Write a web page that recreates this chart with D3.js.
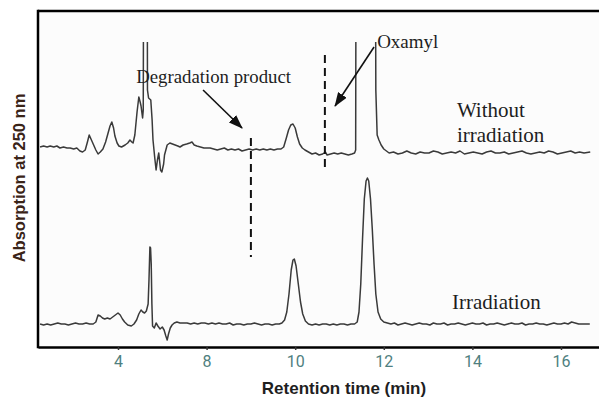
<!DOCTYPE html>
<html>
<head>
<meta charset="utf-8">
<script src="https://cdn.jsdelivr.net/npm/d3@7/dist/d3.min.js"></script>
<style>
  html, body { margin: 0; padding: 0; background: #ffffff; }
  svg { display: block; }
</style>
</head>
<body>
<svg id="chart" width="599" height="400"></svg>
<script>
// ---------------- DATA ----------------
// x tick values (retention time, min) and the labels printed under them
const xTickValues = [6, 8, 10, 12, 14, 16];
const xTickLabels = ["4", "8", "10", "12", "14", "16"];

// Without irradiation trace: [time (min), absorbance (arb. units)]
const withoutIrradiation = [
  [4.24, 3], [4.32, 4], [4.40, 3], [4.47, 4], [4.55, 3], [4.62, 4], [4.69, 2], [4.77, 3],
  [4.85, 2], [4.92, 2], [5.00, 1], [5.07, 2], [5.14, -1], [5.20, -2], [5.26, 0], [5.31, 8],
  [5.35, 15], [5.38, 12], [5.41, 9], [5.45, 5], [5.50, 0], [5.55, -4], [5.60, -2], [5.66, 1],
  [5.72, 8], [5.77, 16], [5.82, 24], [5.86, 28], [5.90, 22], [5.93, 14], [5.98, 7], [6.02, 4],
  [6.08, 3], [6.16, 5], [6.22, 7], [6.27, 10], [6.31, 8], [6.34, 7], [6.38, 15], [6.43, 38],
  [6.47, 53], [6.50, 48], [6.52, 44], [6.555, 32], [6.57, 40], [6.585, 330], [6.60, 330],
  [6.62, 300], [6.64, 330], [6.655, 330], [6.665, 60], [6.69, 52], [6.74, 50], [6.77, 30],
  [6.79, 10], [6.83, -8], [6.86, -20], [6.89, -10], [6.92, -3], [6.96, -20], [6.99, -22],
  [7.03, -14], [7.05, -5], [7.11, 5], [7.17, 7], [7.23, 6], [7.29, 5], [7.35, 4], [7.40, 3],
  [7.47, 5], [7.55, 6], [7.62, 7], [7.67, 8], [7.72, 5], [7.78, 4], [7.86, 3], [7.94, 2],
  [8.01, 2], [8.08, 2], [8.16, 1], [8.24, 0], [8.32, 1], [8.40, 2], [8.48, 0], [8.56, 1],
  [8.64, 0], [8.72, 1], [8.80, -1], [8.88, 0], [8.96, 1], [9.04, 0], [9.12, 1], [9.20, 0],
  [9.28, 1], [9.36, 0], [9.44, 1], [9.52, 0], [9.60, 1], [9.68, 1], [9.74, 3], [9.80, 12],
  [9.85, 20], [9.90, 25], [9.95, 26], [10.00, 22], [10.05, 13], [10.10, 6], [10.16, 2],
  [10.22, 0], [10.30, -2], [10.38, -4], [10.46, -3], [10.54, -5], [10.62, -4], [10.68, -2],
  [10.72, -5], [10.80, -4], [10.88, -3], [10.96, -4], [11.04, -3], [11.12, -4], [11.20, -5],
  [11.28, -4], [11.34, -3], [11.365, 0], [11.38, 400], [11.80, 400], [11.82, 60], [11.85, 15],
  [11.89, 10], [11.94, 5], [12.00, 1], [12.06, -1], [12.12, -3], [12.22, -2], [12.32, -4],
  [12.42, -3], [12.52, -1], [12.62, -3], [12.72, -4], [12.82, -2], [12.92, -3], [13.02, -3],
  [13.12, -1], [13.22, -2], [13.32, -4], [13.42, -3], [13.52, -2], [13.62, -3], [13.72, -1],
  [13.82, -4], [13.92, -3], [14.02, -2], [14.12, -3], [14.22, -4], [14.32, -2], [14.42, -1],
  [14.52, -3], [14.62, -3], [14.72, -2], [14.82, -4], [14.92, -3], [15.02, -2], [15.12, -1],
  [15.22, -3], [15.32, -4], [15.42, -3], [15.52, -2], [15.62, -3], [15.72, -1], [15.82, -2],
  [15.92, -4], [16.02, -3], [16.12, -2], [16.22, -1], [16.32, -3], [16.42, -2], [16.52, -3],
  [16.66, -2]
];

// Irradiation trace: [time (min), absorbance (arb. units)]
const irradiation = [
  [4.24, 0], [4.32, -1], [4.40, 0], [4.48, -1], [4.56, 0], [4.64, 1], [4.72, 0], [4.80, 0],
  [4.88, -1], [4.96, 0], [5.04, 1], [5.12, 0], [5.20, 0], [5.28, 1], [5.36, 0], [5.44, 0],
  [5.50, 2], [5.55, 9], [5.60, 8], [5.65, 6], [5.70, 5], [5.76, 6], [5.82, 5], [5.88, 7],
  [5.94, 9], [6.00, 11], [6.05, 9], [6.10, 5], [6.15, 2], [6.22, -1], [6.30, -2], [6.36, 0],
  [6.42, 4], [6.47, 10], [6.52, 14], [6.56, 12], [6.60, 11], [6.64, 13], [6.68, 20], [6.70, 45],
  [6.72, 77], [6.735, 76], [6.75, 60], [6.765, 20], [6.78, -2], [6.82, -4], [6.86, 1],
  [6.90, -2], [6.95, -5], [7.00, -3], [7.04, -6], [7.08, -12], [7.11, -16], [7.14, -10],
  [7.18, -4], [7.22, -1], [7.27, 1], [7.33, 2], [7.40, 1], [7.48, 1], [7.56, 1], [7.64, 0],
  [7.72, 1], [7.80, 0], [7.88, 1], [7.96, 1], [8.04, 0], [8.12, 1], [8.20, 0], [8.28, 1],
  [8.36, 0], [8.44, 0], [8.52, 1], [8.60, -1], [8.68, 0], [8.76, 0], [8.84, -1], [8.92, 0],
  [9.00, 0], [9.08, 1], [9.16, 0], [9.24, -1], [9.32, 0], [9.40, 0], [9.48, -1], [9.56, 0],
  [9.64, 0], [9.70, 1], [9.76, 4], [9.81, 12], [9.86, 30], [9.91, 54], [9.95, 64],
  [9.98, 65], [10.02, 58], [10.07, 40], [10.12, 22], [10.17, 10], [10.23, 3], [10.30, 0],
  [10.38, -1], [10.46, 0], [10.54, -1], [10.62, 0], [10.70, 0], [10.78, -1], [10.86, 0],
  [10.94, -1], [11.02, 0], [11.10, 0], [11.18, -1], [11.26, 0], [11.34, 0], [11.40, 2],
  [11.44, 12], [11.48, 40], [11.52, 85], [11.56, 125], [11.60, 143], [11.63, 146],
  [11.66, 143], [11.70, 125], [11.74, 95], [11.78, 60], [11.82, 30], [11.87, 12], [11.93, 5],
  [12.00, 2], [12.08, 1], [12.16, 0], [12.24, 1], [12.32, -1], [12.40, 0], [12.48, 1],
  [12.56, 0], [12.64, -1], [12.72, 0], [12.80, 1], [12.88, 0], [12.96, 0], [13.04, -1],
  [13.12, 1], [13.20, 0], [13.28, 0], [13.36, 1], [13.44, -1], [13.52, 0], [13.60, 0],
  [13.68, 1], [13.76, 0], [13.84, -1], [13.92, 0], [14.00, 1], [14.08, 0], [14.16, 0],
  [14.24, 1], [14.32, -1], [14.40, 0], [14.48, 0], [14.56, 1], [14.64, 0], [14.72, -1],
  [14.80, 0], [14.88, 1], [14.96, 0], [15.04, 0], [15.12, 1], [15.20, -1], [15.28, 0],
  [15.36, 0], [15.44, 1], [15.52, 0], [15.60, 0], [15.68, -1], [15.76, 0], [15.84, 1],
  [15.92, 0], [16.00, 0], [16.08, 1], [16.16, 0], [16.24, 2], [16.32, 1], [16.40, 0],
  [16.50, 0], [16.65, 0]
];

// Vertical offset of the upper (without irradiation) trace, in absorbance units
const stackOffset = 174;

// Dashed marker lines: [time, lower value, upper value]
const dashedMarkers = [
  [9.00, 67, 186],
  [10.67, 154, 269]
];

// Arrows: [from time, from value, to time, to value]
const arrows = [
  [7.92, 234, 8.80, 196],
  [11.78, 277, 10.90, 218]
];

// Text annotations: [text, time, value, font size]
const annotations = [
  ["Degradation product", 6.41, 241, 18.8],
  ["Oxamyl", 11.85, 276, 19],
  ["Without", 13.65, 207, 21],
  ["irradiation", 13.65, 182, 21],
  ["Irradiation", 13.54, 15, 21]
];

const xTitle = "Retention time (min)";
const yTitle = "Absorption at 250 nm";

// ---------------- LAYOUT ----------------
const svg = d3.select("#chart");
const frame = { left: 38, top: 11, right: 599, bottom: 347 };

const x = d3.scaleLinear().domain([4.194, 16.858]).range([frame.left, frame.right]);
const y = d3.scaleLinear().domain([0, 282]).range([324, 42]);

svg.append("rect").attr("x", 0).attr("y", 0).attr("width", 599).attr("height", 400).attr("fill", "#ffffff");
svg.append("rect")
  .attr("x", frame.left).attr("y", frame.top)
  .attr("width", frame.right - frame.left).attr("height", frame.bottom - frame.top)
  .attr("fill", "#fcfcfc");

const defs = svg.append("defs");
defs.append("clipPath").attr("id", "clip")
  .append("rect")
  .attr("x", frame.left).attr("y", y(282))
  .attr("width", frame.right - frame.left)
  .attr("height", frame.bottom - y(282));

defs.append("marker")
  .attr("id", "arrowhead")
  .attr("viewBox", "0 0 14 10")
  .attr("refX", 13).attr("refY", 5)
  .attr("markerWidth", 9).attr("markerHeight", 6.4)
  .attr("markerUnits", "strokeWidth")
  .attr("orient", "auto")
  .append("path").attr("d", "M0,0 L14,5 L0,10 Z").attr("fill", "#111");

const line = d3.line()
  .x(d => x(d[0]))
  .y(d => y(d[1]))
  .curve(d3.curveLinear);

const traces = svg.append("g").attr("clip-path", "url(#clip)");

traces.append("path")
  .datum(withoutIrradiation.map(d => [d[0], d[1] + stackOffset]))
  .attr("d", line)
  .attr("fill", "none")
  .attr("stroke", "#3a3a3a")
  .attr("stroke-width", 1.5)
  .attr("stroke-linejoin", "round");

traces.append("path")
  .datum(irradiation)
  .attr("d", line)
  .attr("fill", "none")
  .attr("stroke", "#3a3a3a")
  .attr("stroke-width", 1.5)
  .attr("stroke-linejoin", "round");

// dashed markers
svg.selectAll(".dash").data(dashedMarkers).enter().append("line")
  .attr("class", "dash")
  .attr("x1", d => x(d[0])).attr("x2", d => x(d[0]))
  .attr("y1", d => y(d[2])).attr("y2", d => y(d[1]))
  .attr("stroke", "#111")
  .attr("stroke-width", 2)
  .attr("stroke-dasharray", "8,5");

// arrows
svg.selectAll(".arrow").data(arrows).enter().append("line")
  .attr("class", "arrow")
  .attr("x1", d => x(d[0])).attr("y1", d => y(d[1]))
  .attr("x2", d => x(d[2])).attr("y2", d => y(d[3]))
  .attr("stroke", "#111")
  .attr("stroke-width", 1.6)
  .attr("marker-end", "url(#arrowhead)");

// annotation texts
svg.selectAll(".note").data(annotations).enter().append("text")
  .attr("class", "note")
  .attr("x", d => x(d[1]))
  .attr("y", d => y(d[2]))
  .attr("font-family", "'Liberation Serif', 'Times New Roman', serif")
  .attr("font-size", d => d[3])
  .attr("fill", "#1e1e1e")
  .text(d => d[0]);

// frame: top and left borders
svg.append("line")
  .attr("x1", frame.left).attr("x2", frame.right)
  .attr("y1", frame.top).attr("y2", frame.top)
  .attr("stroke", "#000").attr("stroke-width", 2.5);
svg.append("line")
  .attr("x1", frame.left).attr("x2", frame.left)
  .attr("y1", frame.top - 1.2).attr("y2", frame.bottom + 1.2)
  .attr("stroke", "#000").attr("stroke-width", 2.5);

// x axis
const xAxis = d3.axisBottom(x)
  .tickValues(xTickValues)
  .tickFormat((d, i) => xTickLabels[i])
  .tickSizeInner(3)
  .tickSizeOuter(0)
  .tickPadding(6);

const gx = svg.append("g")
  .attr("transform", `translate(0,${frame.bottom})`)
  .call(xAxis);
gx.select(".domain").attr("stroke", "#000").attr("stroke-width", 2.5);
gx.selectAll(".tick line").attr("stroke", "#333").attr("stroke-width", 1.5);
gx.selectAll(".tick text")
  .attr("fill", "#4f7f80")
  .attr("font-family", "Roboto, 'DejaVu Sans', sans-serif")
  .attr("font-size", 16);

// axis titles
svg.append("text")
  .attr("x", 344).attr("y", 394)
  .attr("text-anchor", "middle")
  .attr("font-family", "'Liberation Sans', Arial, sans-serif")
  .attr("font-weight", "bold")
  .attr("font-size", 17)
  .attr("fill", "#1f1f1f")
  .text(xTitle);

svg.append("text")
  .attr("transform", "translate(25,178) rotate(-90)")
  .attr("text-anchor", "middle")
  .attr("font-family", "'Liberation Sans', Arial, sans-serif")
  .attr("font-weight", "bold")
  .attr("font-size", 16.5)
  .attr("fill", "#3a2418")
  .text(yTitle);
</script>
</body>
</html>
